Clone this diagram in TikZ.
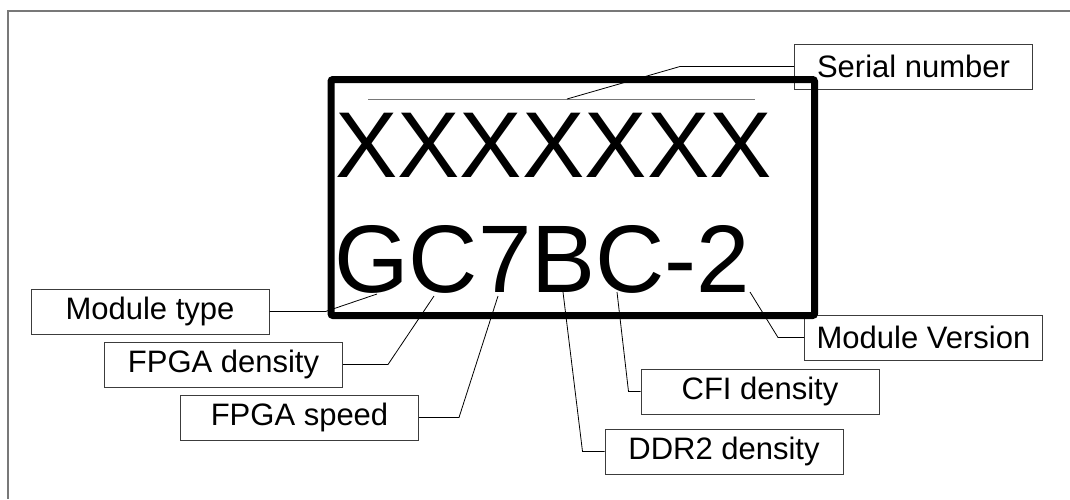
\documentclass[tikz,border=0pt]{standalone}
\usepackage{fontspec}
\setmainfont{Liberation Sans}
\usetikzlibrary{positioning}
\definecolor{framegray}{RGB}{120,120,120}
\definecolor{boxgray}{RGB}{60,60,60}

\begin{document}
\begin{tikzpicture}[
    x=1pt, y=-1pt,
    tag/.style={rectangle, draw=boxgray, line width=1pt, minimum width=238pt, minimum height=45pt, inner sep=0pt, align=center, font=\fontsize{31}{31}\selectfont},
    big/.style={anchor=base west, inner sep=0pt, font=\fontsize{#1}{#1}\selectfont},
    big/.default=96,
    lead/.style={line width=0.8pt},
    plate/.style={rectangle, draw, line width=7pt, rounded corners=2pt, minimum width=483.5pt, minimum height=236pt, inner sep=0pt}
]
\useasboundingbox (0,0) rectangle (1070,499);

% Outer frame
\draw[framegray, line width=1.3pt] (1070,11) -- (8,11) -- (8,499);

% Marking text
\node[big=93.5] (serno) at (335,177) {XXXXXXX};
\node[big] (code) at (334,292) {GC7BC-2};
\draw[framegray, line width=1pt] (368,99) coordinate (barL) -- (755,99) coordinate (barR);

% Label boxes
\node[tag] (serial) at (913.5,66.5) {Serial number};
\node[tag] (mtype) at (150,311.5) {Module type};
\node[tag] (fdens) at (223.5,364.5) {FPGA density};
\node[tag] (fspeed) at (299.5,417.5) {FPGA speed};
\node[tag] (mver) at (923.5,337.5) {Module Version};
\node[tag] (cfi) at (760,391.5) {CFI density};
\node[tag] (ddr) at (724,451.5) {DDR2 density};

% Leader ends on the characters
\coordinate (onBar) at (567,99);
\coordinate (onG) at (377,294);
\coordinate (onC) at (434,296);
\coordinate (on7) at (498,296);
\coordinate (onB) at (563,292);
\coordinate (onC2) at (617,292);
\coordinate (on2) at (750,292);

% Leaders
\draw[lead] (serial.west) -- ++(-114,0) -- (onBar);
\draw[lead] (mtype.east) -- ++(56,0) -- (onG);
\draw[lead] (fdens.east) -- ++(45,0) -- (onC);
\draw[lead] (fspeed.east) -- ++(40,0) -- (on7);
\draw[lead] (ddr.west) -- ++(-22,0) -- (onB);
\draw[lead] (cfi.west) -- ++(-12,0) -- (onC2);
\draw[lead] (mver.west) -- ++(-26,0) -- (on2);

% Module plate
\node[plate] (module) at (572.75,197.5) {};

\end{tikzpicture}
\end{document}
